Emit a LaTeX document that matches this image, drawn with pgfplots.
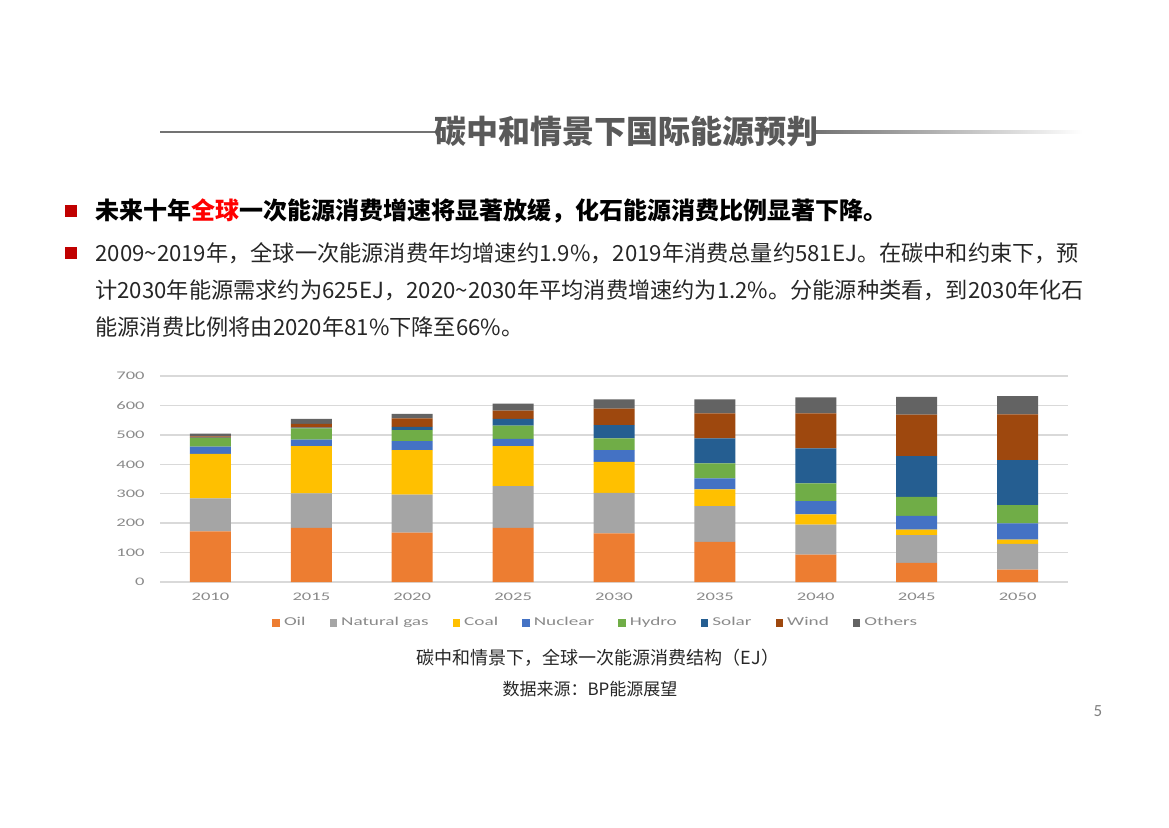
\documentclass[border=0pt]{standalone}
\usepackage{pgfplots}
\pgfplotsset{compat=1.18}
\usepackage{pgfplotstable}
\usepackage{fontspec}
\setmainfont{Carlito}
\newfontfamily\cjk{Noto Sans CJK SC}

\definecolor{oilc}{HTML}{ED7D31}
\definecolor{gasc}{HTML}{A5A5A5}
\definecolor{coalc}{HTML}{FFC000}
\definecolor{nucc}{HTML}{4472C4}
\definecolor{hydroc}{HTML}{70AD47}
\definecolor{solarc}{HTML}{255E91}
\definecolor{windc}{HTML}{9E480E}
\definecolor{otherc}{HTML}{636363}
\definecolor{gridc}{HTML}{D9D9D9}
\definecolor{tickc}{HTML}{8A8A8A}
\definecolor{bulletc}{HTML}{C00000}

% chart text in the picture is stretched sideways
\newcommand\wt[1]{\scalebox{1.6}[1]{#1}}

% EJ by source
\pgfplotstableread{
x oil gas coal nuc hydro solar wind other
0 172 112 151 25 30 1 4 9
1 184 117 161 22 38 3 12 17
2 168 129 151 31 37 11 29 15
3 184 142 136 24 45 23 28 24
4 165 138 105 40 40 45 56 32
5 136 122 57 37 51 85 85 48
6 93 102 35 45 60 119 119 54
7 65 94 19 47 64 139 141 60
8 42 88 14 55 62 153 156 62
}\datatable

\begin{document}
\begin{tikzpicture}[x=0.5bp,y=-0.5bp]
\fill[white] (0,0) rectangle (1169,827);
\useasboundingbox (0,0) rectangle (1169,827);

% title bar
\draw[line width=1.2bp, black!55] (160,132) -- (437,132);
\shade[left color=black!55, right color=white] (816,130.8) rectangle (1082,133.2);
\node[font=\cjk\bfseries\fontsize{16bp}{18bp}\selectfont, text=black!65] at (626,131) {碳中和情景下国际能源预判};

% bullets and text
\fill[bulletc] (65,205) rectangle (77,217);
\fill[bulletc] (65,247) rectangle (77,259);
\node[anchor=west, inner sep=0pt, font=\cjk\bfseries\fontsize{12bp}{14bp}\selectfont] at (95,211)
  {未来十年\textcolor{red}{全球}一次能源消费增速将显著放缓，化石能源消费比例显著下降。};
\begin{scope}[every node/.style={anchor=west, inner sep=0pt, text=black!85, font=\cjk\fontsize{11.1bp}{13bp}\selectfont}]
\node at (95,253) {2009\textasciitilde2019年，全球一次能源消费年均增速约1.9\%，2019年消费总量约581EJ。在碳中和约束下，预};
\node at (95,290) {计2030年能源需求约为625EJ，2020\textasciitilde2030年平均消费增速约为1.2\%。分能源种类看，到2030年化石};
\node at (95,327) {能源消费比例将由2020年81\%下降至66\%。};
\end{scope}

% captions
\node[font=\cjk\fontsize{9bp}{11bp}\selectfont, text=black!85] at (598,658) {碳中和情景下，全球一次能源消费结构（EJ）};
\node[font=\cjk\fontsize{8.5bp}{10bp}\selectfont, text=black!85] at (590,689) {数据来源：BP能源展望};
\node[font=\fontsize{8.5bp}{10bp}\selectfont, text=black!50] at (1098,711) {5};

\coordinate (axpos) at (160,582);
\begin{axis}[
  at={(axpos)}, anchor=south west,
  scale only axis, width=454bp, height=103bp,
  ybar stacked, bar width=20.5bp,
  xmin=-0.5, xmax=8.5, ymin=0, ymax=700,
  xtick={0,...,8},
  xticklabels={\wt{2010},\wt{2015},\wt{2020},\wt{2025},\wt{2030},\wt{2035},\wt{2040},\wt{2045},\wt{2050}},
  ytick={0,100,...,700},
  yticklabels={\wt{0},\wt{100},\wt{200},\wt{300},\wt{400},\wt{500},\wt{600},\wt{700}},
  axis line style={draw=none},
  major tick length=0pt,
  ymajorgrids, grid style={gridc, line width=0.7bp},
  ticklabel style={font=\fontsize{5.8bp}{7bp}\selectfont, text=tickc, inner sep=0pt},
  yticklabel style={anchor=east, xshift=-7.5bp},
  xticklabel style={anchor=north, yshift=-5.5bp},
  legend columns=8,
  legend style={at={(0.481,-0.2)}, anchor=center, draw=none, fill=none,
    font=\fontsize{6bp}{7bp}\selectfont, text=tickc,
    /tikz/every even column/.append style={column sep=10bp}},
  legend image code/.code={\fill[#1, draw=none] (0bp,-1.9bp) rectangle (3.8bp,1.9bp);},
]
\addplot[fill=oilc, draw=none] table[x=x, y=oil] {\datatable};
\addlegendentry{\wt{Oil}}
\addplot[fill=gasc, draw=none] table[x=x, y=gas] {\datatable};
\addlegendentry{\wt{Natural gas}}
\addplot[fill=coalc, draw=none] table[x=x, y=coal] {\datatable};
\addlegendentry{\wt{Coal}}
\addplot[fill=nucc, draw=none] table[x=x, y=nuc] {\datatable};
\addlegendentry{\wt{Nuclear}}
\addplot[fill=hydroc, draw=none] table[x=x, y=hydro] {\datatable};
\addlegendentry{\wt{Hydro}}
\addplot[fill=solarc, draw=none] table[x=x, y=solar] {\datatable};
\addlegendentry{\wt{Solar}}
\addplot[fill=windc, draw=none] table[x=x, y=wind] {\datatable};
\addlegendentry{\wt{Wind}}
\addplot[fill=otherc, draw=none] table[x=x, y=other] {\datatable};
\addlegendentry{\wt{Others}}
\end{axis}
\end{tikzpicture}
\end{document}
